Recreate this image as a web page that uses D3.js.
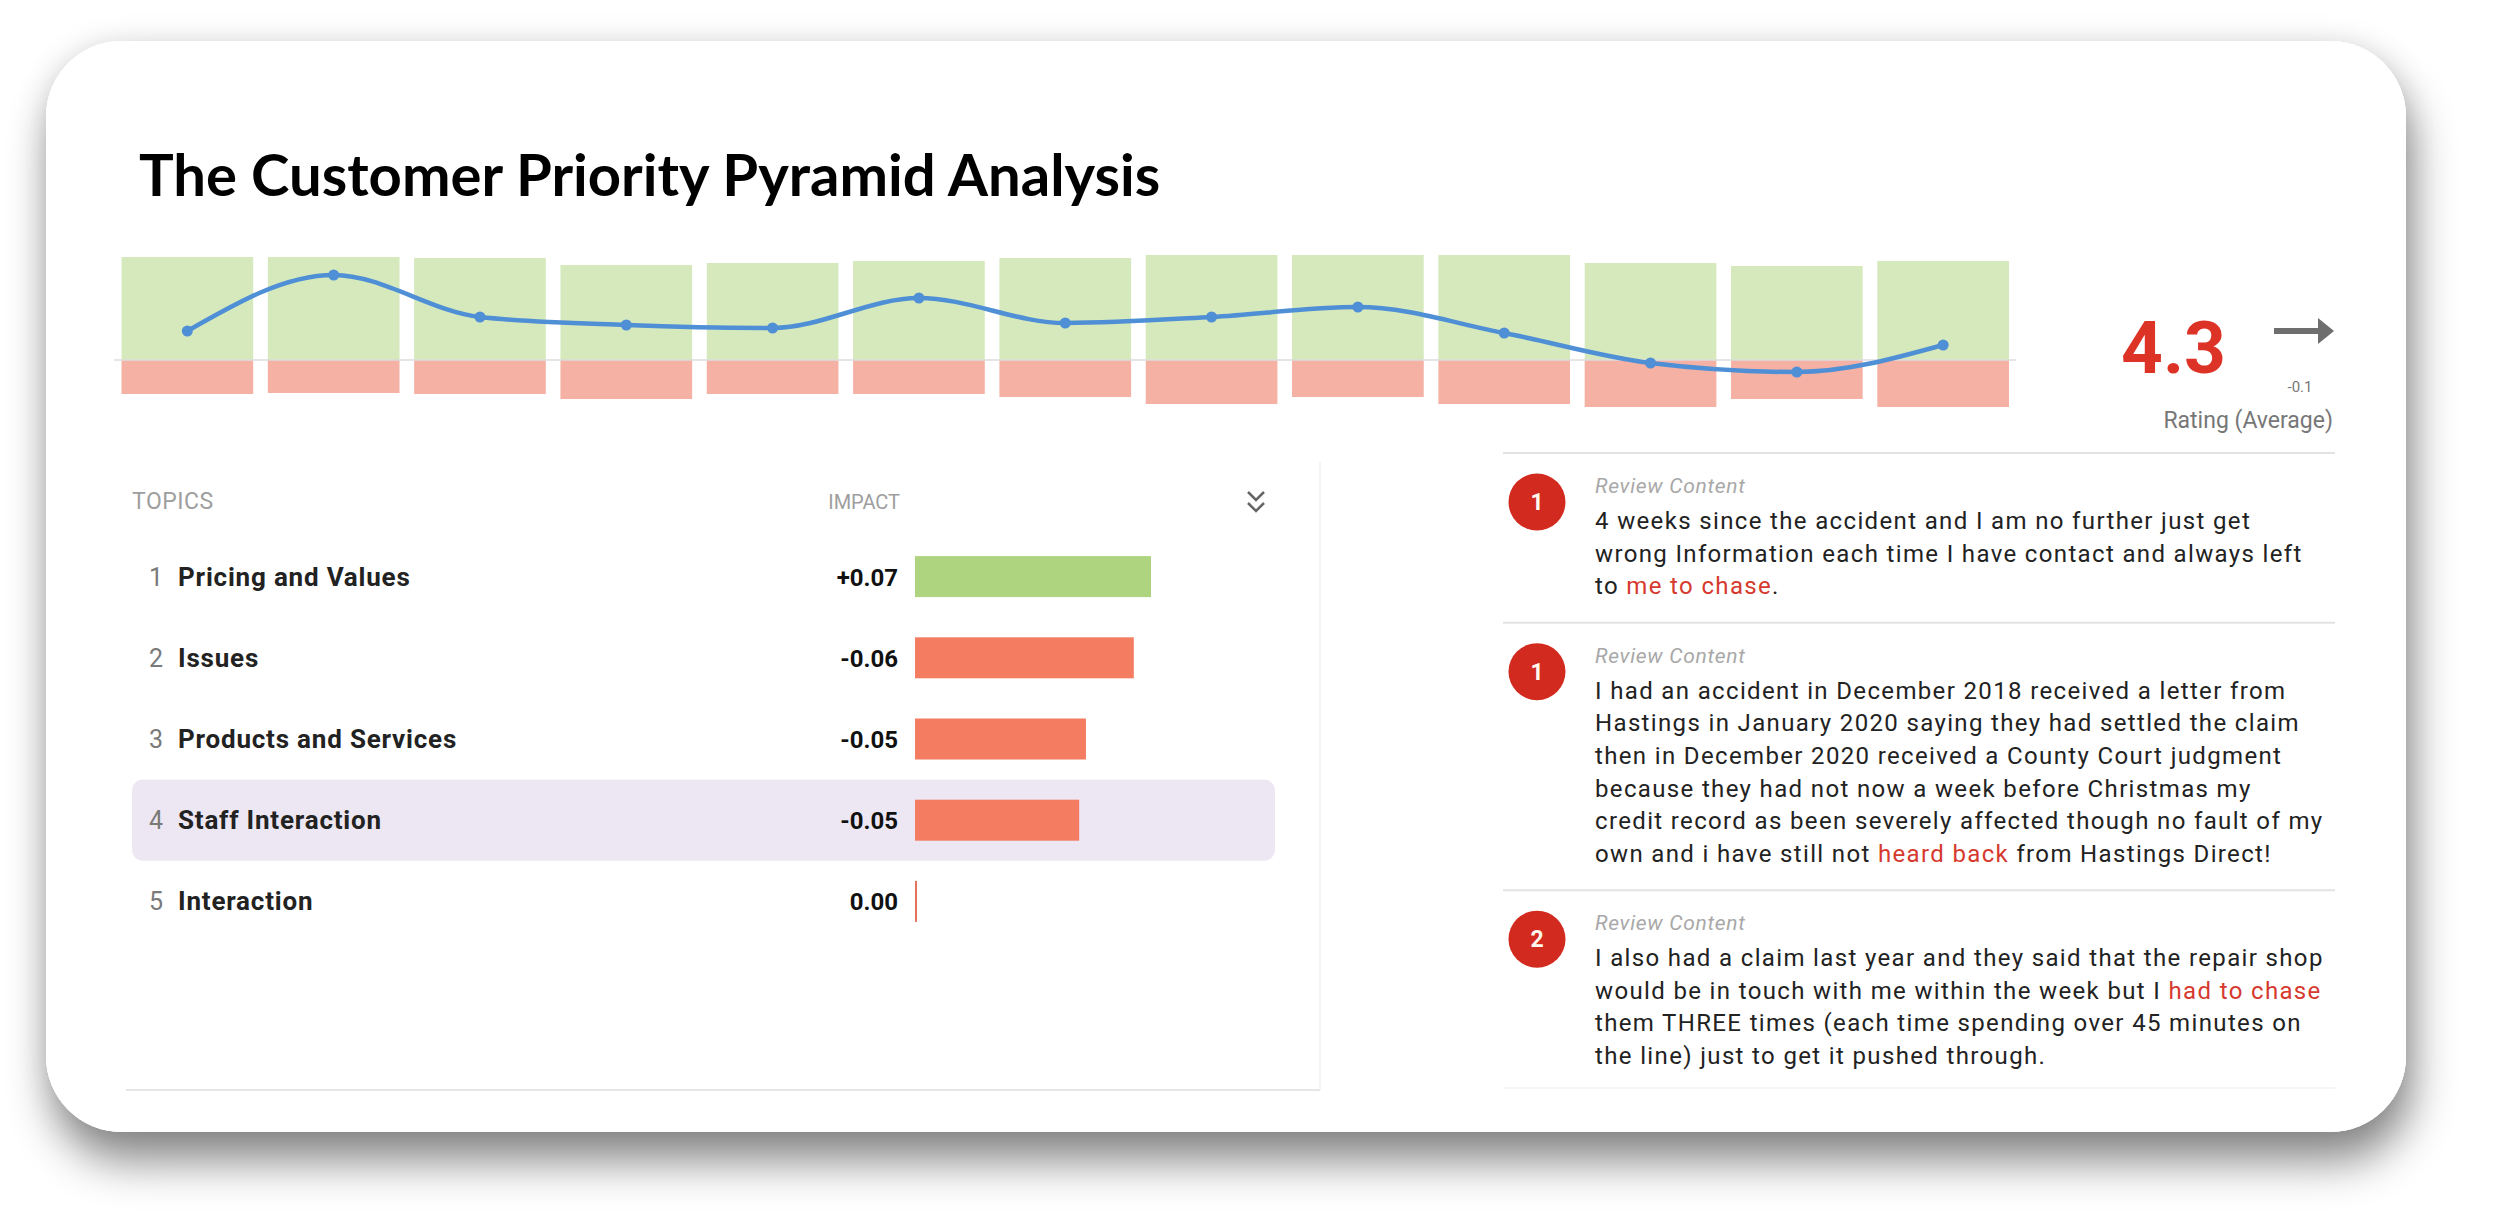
<!DOCTYPE html>
<html>
<head>
<meta charset="utf-8">
<script src="https://cdn.jsdelivr.net/npm/d3@7"></script>
<style>
  html, body { margin: 0; padding: 0; background: #ffffff; }
  svg { display: block; }
</style>
</head>
<body>
<div id="chart"></div>
<script>
// ---------------- DATA ----------------
const title = "The Customer Priority Pyramid Analysis";

const periods = ["P1","P2","P3","P4","P5","P6","P7","P8","P9","P10","P11","P12","P13"];
const positiveCounts = [103, 103, 102, 95, 97, 99, 102, 105, 105, 105, 97, 94, 99];
const negativeCounts = [34, 33, 34, 39, 34, 34, 37, 44, 37, 44, 47, 39, 47];
const ratingTrend = [4.37, 4.65, 4.44, 4.40, 4.385, 4.535, 4.41, 4.44, 4.49, 4.36, 4.21, 4.165, 4.30];

const ratingAverage = "4.3";
const ratingChange = "-0.1";
const ratingLabel = "Rating (Average)";

const topics = ["Pricing and Values", "Issues", "Products and Services", "Staff Interaction", "Interaction"];
const impacts = [0.07, -0.0649, -0.0507, -0.0487, 0.0];
const highlightedTopic = "Staff Interaction";
const tableHeaders = ["TOPICS", "IMPACT"];

const reviewRanks = [1, 1, 2];
const reviewLabel = "Review Content";
// each line: list of [text, highlighted]
const reviewLines = [
  [
    [["4 weeks since the accident and I am no further just get", false]],
    [["wrong Information each time I have contact and always left", false]],
    [["to ", false], ["me to chase", true], [".", false]]
  ],
  [
    [["I had an accident in December 2018 received a letter from", false]],
    [["Hastings in January 2020 saying they had settled the claim", false]],
    [["then in December 2020 received a County Court judgment", false]],
    [["because they had not now a week before Christmas my", false]],
    [["credit record as been severely affected though no fault of my", false]],
    [["own and i have still not ", false], ["heard back", true], [" from Hastings Direct!", false]]
  ],
  [
    [["I also had a claim last year and they said that the repair shop", false]],
    [["would be in touch with me within the week but I ", false], ["had to chase", true]],
    [["them THREE times (each time spending over 45 minutes on", false]],
    [["the line) just to get it pushed through.", false]]
  ]
];

// ---------------- DRAW ----------------
const W = 2495, H = 1229;
const svg = d3.select("#chart").append("svg").attr("width", W).attr("height", H);
const defs = svg.append("defs");

const f1 = defs.append("filter").attr("id", "shadowA")
  .attr("x", "-10%").attr("y", "-20%").attr("width", "120%").attr("height", "150%");
f1.append("feDropShadow").attr("dx", 6).attr("dy", 30).attr("stdDeviation", 22)
  .attr("flood-color", "#000").attr("flood-opacity", 0.45);
const f2 = defs.append("filter").attr("id", "shadowB")
  .attr("x", "-10%").attr("y", "-20%").attr("width", "120%").attr("height", "150%");
f2.append("feDropShadow").attr("dx", 0).attr("dy", 0).attr("stdDeviation", 14)
  .attr("flood-color", "#000").attr("flood-opacity", 0.10);

// card
const card = { x: 46, y: 41, w: 2360, h: 1091, r: 76 };
svg.append("rect").attr("x", card.x).attr("y", card.y).attr("width", card.w).attr("height", card.h)
  .attr("rx", card.r).attr("fill", "#fff").attr("filter", "url(#shadowB)");
svg.append("rect").attr("x", card.x).attr("y", card.y).attr("width", card.w).attr("height", card.h)
  .attr("rx", card.r).attr("fill", "#fff").attr("filter", "url(#shadowA)");
svg.append("rect").attr("x", card.x).attr("y", card.y).attr("width", card.w).attr("height", card.h)
  .attr("rx", card.r).attr("fill", "#fff");

// title
svg.append("text").attr("x", 139).attr("y", 196)
  .attr("font-family", "Lato, sans-serif").attr("font-weight", 700).attr("font-size", 58)
  .attr("fill", "#000").text(title);

// ---- top diverging bars + trend line ----
const x = d3.scaleBand().domain(periods).range([121.5, 2009]).paddingInner(0.1).paddingOuter(0);
const yCount = d3.scaleLinear().domain([-50, 110]).range([410, 250]);
const yRating = d3.scaleLinear().domain([4.0, 4.8]).range([405, 245]);

const trendG = svg.append("g");
trendG.selectAll("rect.pos").data(periods).join("rect").attr("class", "pos")
  .attr("x", d => x(d)).attr("width", x.bandwidth())
  .attr("y", (d, i) => yCount(positiveCounts[i]))
  .attr("height", (d, i) => yCount(0) - yCount(positiveCounts[i]))
  .attr("fill", "#d6e9bd");
trendG.selectAll("rect.neg").data(periods).join("rect").attr("class", "neg")
  .attr("x", d => x(d)).attr("width", x.bandwidth())
  .attr("y", yCount(0))
  .attr("height", (d, i) => yCount(-negativeCounts[i]) - yCount(0))
  .attr("fill", "#f4b1a4");
trendG.append("line").attr("x1", 114).attr("x2", 2016).attr("y1", yCount(0)).attr("y2", yCount(0))
  .attr("stroke", "#dcdcdc").attr("stroke-width", 1.5);

const line = d3.line()
  .x((d, i) => x(periods[i]) + x.bandwidth() / 2)
  .y(d => yRating(d))
  .curve(d3.curveMonotoneX);
trendG.append("path").datum(ratingTrend).attr("d", line)
  .attr("fill", "none").attr("stroke", "#4f8fd5").attr("stroke-width", 4.5).attr("stroke-linecap", "round");
trendG.selectAll("circle").data(ratingTrend).join("circle")
  .attr("cx", (d, i) => x(periods[i]) + x.bandwidth() / 2)
  .attr("cy", d => yRating(d)).attr("r", 5.5).attr("fill", "#4f8fd5");

// ---- rating summary ----
svg.append("text").attr("x", 2121).attr("y", 373)
  .attr("font-family", "Roboto, sans-serif").attr("font-weight", 700).attr("font-size", 73)
  .attr("fill", "#dd3327").text(ratingAverage);
const arrow = svg.append("g").attr("fill", "#6e6e6e").attr("stroke", "#6e6e6e");
arrow.append("line").attr("x1", 2274).attr("x2", 2322).attr("y1", 331).attr("y2", 331).attr("stroke-width", 6);
arrow.append("path").attr("d", "M2318,318 L2334,331 L2318,344 Z").attr("stroke", "none");
svg.append("text").attr("x", 2300).attr("y", 392).attr("text-anchor", "middle")
  .attr("font-family", "Roboto, sans-serif").attr("font-size", 15).attr("fill", "#777").text(ratingChange);
svg.append("text").attr("x", 2333).attr("y", 428).attr("text-anchor", "end")
  .attr("font-family", "Roboto, sans-serif").attr("font-size", 23).attr("fill", "#777").text(ratingLabel);

// ---- topics table ----
const table = svg.append("g");
table.append("line").attr("x1", 1320).attr("x2", 1320).attr("y1", 462).attr("y2", 1090)
  .attr("stroke", "#f0f0f0").attr("stroke-width", 1.5);
table.append("line").attr("x1", 126).attr("x2", 1320).attr("y1", 1090).attr("y2", 1090)
  .attr("stroke", "#e6e6e6").attr("stroke-width", 2);

table.append("text").attr("x", 132).attr("y", 509)
  .attr("font-family", "Roboto, sans-serif").attr("font-size", 23).attr("letter-spacing", 0.5)
  .attr("fill", "#9e9e9e").text(tableHeaders[0]);
table.append("text").attr("x", 900).attr("y", 509).attr("text-anchor", "end")
  .attr("font-family", "Roboto, sans-serif").attr("font-size", 20)
  .attr("fill", "#9e9e9e").text(tableHeaders[1]);
// double chevron
const chev = table.append("g").attr("fill", "none").attr("stroke", "#666").attr("stroke-width", 2.5)
  .attr("stroke-linejoin", "miter");
chev.append("path").attr("d", "M1248,492 L1256,500 L1264,492");
chev.append("path").attr("d", "M1248,503 L1256,511 L1264,503");

const rowY = d3.scaleBand().domain(topics).range([536, 942]).paddingInner(0).paddingOuter(0);
const impactW = d3.scaleLinear().domain([0, 0.07]).range([0, 236]);
const barX = 915, barH = 41;

const rows = table.selectAll("g.row").data(topics).join("g").attr("class", "row")
  .attr("transform", d => `translate(0,${rowY(d)})`);
rows.filter(d => d === highlightedTopic).append("rect")
  .attr("x", 132).attr("y", 0).attr("width", 1143).attr("height", rowY.bandwidth())
  .attr("rx", 11).attr("fill", "#ede7f3");
const cy = rowY.bandwidth() / 2;
rows.append("text").attr("x", 149).attr("y", cy + 9)
  .attr("font-family", "Roboto, sans-serif").attr("font-size", 25).attr("fill", "#7a7a7a")
  .text((d, i) => i + 1);
rows.append("text").attr("x", 178).attr("y", cy + 9)
  .attr("font-family", "Roboto, sans-serif").attr("font-weight", 700).attr("font-size", 26)
  .attr("letter-spacing", 0.8).attr("fill", "#222")
  .text(d => d);
rows.append("text").attr("x", 898).attr("y", cy + 9).attr("text-anchor", "end")
  .attr("font-family", "Roboto, sans-serif").attr("font-weight", 700).attr("font-size", 24).attr("fill", "#111")
  .text((d, i) => impacts[i] > 0 ? "+" + impacts[i].toFixed(2) : impacts[i].toFixed(2));
rows.append("rect").attr("x", barX).attr("y", cy - barH / 2).attr("height", barH)
  .attr("width", (d, i) => Math.max(2, impactW(Math.abs(impacts[i]))))
  .attr("fill", (d, i) => impacts[i] > 0 ? "#afd480" : (impacts[i] < 0 ? "#f37c61" : "#e8735a"));

// ---- reviews ----
const rv = svg.append("g");
const lineH = 32.6;
let sepY = 453;
reviewLines.forEach((lines, k) => {
  rv.append("line").attr("x1", 1503).attr("x2", 2335).attr("y1", sepY).attr("y2", sepY)
    .attr("stroke", "#e3e3e3").attr("stroke-width", 2);
  rv.append("circle").attr("cx", 1537).attr("cy", sepY + 49).attr("r", 28.5).attr("fill", "#d32a1f");
  rv.append("text").attr("x", 1537).attr("y", sepY + 57).attr("text-anchor", "middle")
    .attr("font-family", "Roboto, sans-serif").attr("font-weight", 700).attr("font-size", 23)
    .attr("fill", "#fff8ee").text(reviewRanks[k]);
  rv.append("text").attr("x", 1595).attr("y", sepY + 40)
    .attr("font-family", "Roboto, sans-serif").attr("font-style", "italic").attr("font-size", 21)
    .attr("letter-spacing", 0.7).attr("fill", "#a8a8a8").text(reviewLabel);
  const t = rv.selectAll(null).data(lines).join("text")
    .attr("x", 1595).attr("y", (d, i) => sepY + 76 + i * lineH)
    .attr("font-family", "Roboto, sans-serif").attr("font-size", 24)
    .attr("letter-spacing", 1.35).attr("fill", "#222");
  t.selectAll("tspan").data(d => d).join("tspan")
    .attr("fill", d => d[1] ? "#d6392e" : "#222").text(d => d[0]);
  sepY = sepY + 76 + (lines.length - 1) * lineH + 28.5;
});
rv.append("line").attr("x1", 1503).attr("x2", 2335).attr("y1", 1088).attr("y2", 1088)
  .attr("stroke", "#f3f3f3").attr("stroke-width", 1.5);
</script>
</body>
</html>
